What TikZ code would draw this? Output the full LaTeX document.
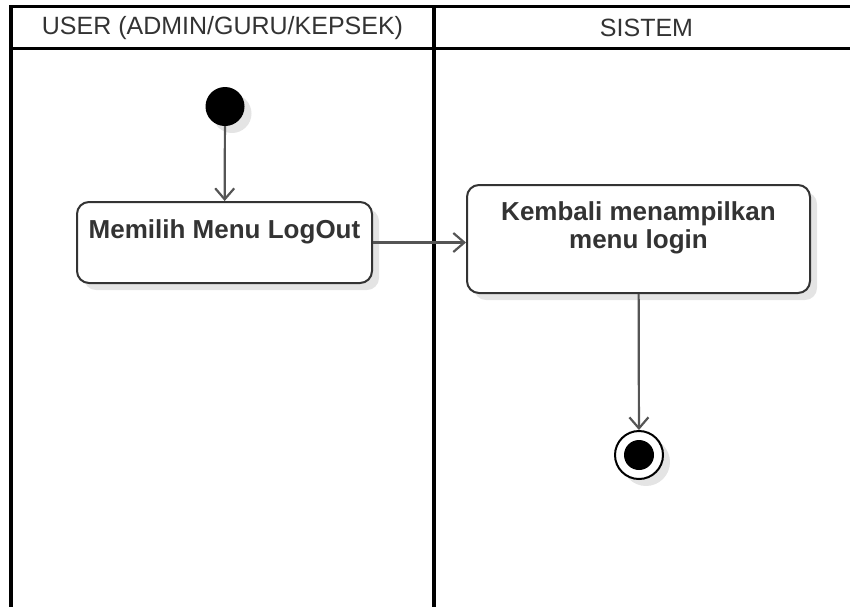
\documentclass[tikz,border=0pt]{standalone}
\usepackage{fontspec}
\setmainfont{Liberation Sans}
\usetikzlibrary{arrows.meta, shadows}
\definecolor{linegray}{HTML}{333333}
\definecolor{arrowgray}{HTML}{555555}
\definecolor{shadowgray}{HTML}{E4E4E4}

\begin{document}
\begin{tikzpicture}[
  x=1pt, y=-1pt,
  lane/.style={draw=black, line width=3.5pt},
  lanetitle/.style={font=\fontsize{25}{28}\selectfont, text=linegray},
  shade/.style={drop shadow={shadow xshift=7pt, shadow yshift=-7pt,
                fill=shadowgray, opacity=1}},
  action/.style={rectangle, rounded corners=12pt, draw=linegray,
                 line width=2pt, fill=white, inner sep=0pt,
                 font=\fontsize{26}{28}\selectfont\bfseries, text=linegray,
                 shade},
  initial/.style={circle, fill=black, minimum size=39pt, inner sep=0pt, shade},
  final/.style={circle, draw=black, line width=2pt, fill=white,
                minimum size=48pt, inner sep=0pt, shade,
                path picture={\fill[black] (path picture bounding box.center)
                              circle (15pt);}},
  arrow/.style={-{Straight Barb[length=11pt, width=19pt]}, line width=2.2pt,
                arrowgray}
]
\useasboundingbox (0,0) rectangle (850,606);
\clip (0,0) rectangle (850,606);

% swimlanes
\draw[lane] (11,6.5) rectangle (875,640);
\draw[lane] (11,48.5) -- (875,48.5);
\draw[lane] (434,6.5) -- (434,640);
\node[lanetitle] (userlane) at (222.5,28) {USER (ADMIN/GURU/KEPSEK)};
\node[lanetitle] (sistemlane) at (646.5,28) {SISTEM};

% activities
\node[initial] (start) at (225,106.5) {};
\node[action] (logout) at (224.5,242.5)
  {\parbox[c][81pt][t]{295pt}{\centering\rule{0pt}{36pt}Memilih Menu LogOut}};
\node[action] (kembali) at (638.5,239)
  {\parbox[c][108pt][t]{343pt}{\centering\rule{0pt}{35pt}Kembali menampilkan\\menu login}};
\node[final] (stop) at (639,455) {};

\draw[arrow] (start) -- (logout);
\draw[arrow] (logout) -- (logout -| kembali.west);
\draw[arrow] (kembali) -- (stop);

\end{tikzpicture}
\end{document}
